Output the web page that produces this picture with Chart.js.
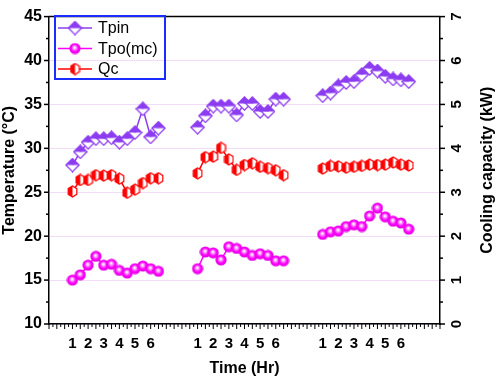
<!DOCTYPE html>
<html lang="en">
<head>
  <meta charset="UTF-8">
  <title>Temperature and cooling capacity</title>
  <script src="https://cdn.jsdelivr.net/npm/chart.js"></script>
  <style>
    body { margin: 0; padding: 0; background: #fff; }
    #wrap { width: 498px; height: 378px; }
  </style>
</head>
<body>
<div id="wrap"><canvas id="chart" width="498" height="378"></canvas></div>
<script>
  // three runs, each read every half hour from 1 to 6.5 Hr
  const hours = [1, 1.5, 2, 2.5, 3, 3.5, 4, 4.5, 5, 5.5, 6, 6.5];
  const groupStart = [3, 19, 35];   // where hour 1 of each run sits on the x scale
  const hourLabels = ['1', '2', '3', '4', '5', '6'];

  // Tpin (°C)
  const tpin1 = [28.1, 29.6, 30.7, 31.1, 31.1, 31.2, 30.7, 31.1, 31.8, 34.5, 31.3, 32.3];
  const tpin2 = [32.4, 33.7, 34.8, 34.8, 34.8, 33.8, 35.1, 35.1, 34.2, 34.2, 35.6, 35.6];
  const tpin3 = [36.0, 36.3, 37.1, 37.5, 37.6, 38.4, 39.1, 38.8, 38.2, 37.9, 37.8, 37.6];

  // Tpo(mc) (°C)
  const tpo1 = [15.0, 15.6, 16.7, 17.7, 16.7, 16.8, 16.1, 15.8, 16.3, 16.6, 16.3, 16.0];
  const tpo2 = [16.3, 18.2, 18.1, 17.3, 18.8, 18.6, 18.2, 17.8, 18.0, 17.8, 17.2, 17.2];
  const tpo3 = [20.2, 20.5, 20.6, 21.1, 21.3, 21.1, 22.3, 23.2, 22.2, 21.7, 21.5, 20.8];

  // Qc (kW)
  const qc1 = [3.02, 3.28, 3.28, 3.39, 3.38, 3.39, 3.31, 2.99, 3.06, 3.21, 3.32, 3.32];
  const qc2 = [3.43, 3.80, 3.81, 4.01, 3.75, 3.51, 3.62, 3.66, 3.58, 3.55, 3.50, 3.39];
  const qc3 = [3.54, 3.60, 3.59, 3.56, 3.58, 3.60, 3.63, 3.62, 3.63, 3.68, 3.63, 3.61];

  const violet = '#8c3cf0';
  const magenta = '#ff00ff';
  const red = '#ff0000';

  // join the three runs into one series, with a null between runs to break the line
  function toPoints(runs) {
    const pts = [];
    runs.forEach((run, g) => {
      run.forEach((v, i) => pts.push({ x: groupStart[g] + (hours[i] - 1) * 2, y: v }));
      pts.push({ x: groupStart[g] + 12, y: null });
    });
    return pts;
  }

  // marker images
  function halfDiamond(color) {
    const c = document.createElement('canvas');
    c.width = 15; c.height = 15;
    const g = c.getContext('2d');
    const m = 7.5, r = 6.6;
    g.beginPath(); g.moveTo(m - r, m); g.lineTo(m, m + r); g.lineTo(m + r, m); g.closePath();
    g.fillStyle = '#fff'; g.fill();
    g.beginPath(); g.moveTo(m - r, m); g.lineTo(m, m - r); g.lineTo(m + r, m); g.closePath();
    g.fillStyle = color; g.fill();
    g.beginPath(); g.moveTo(m - r, m); g.lineTo(m, m - r); g.lineTo(m + r, m); g.lineTo(m, m + r); g.closePath();
    g.strokeStyle = color; g.lineWidth = 1.3; g.stroke();
    return c;
  }

  function sphere(color) {
    const c = document.createElement('canvas');
    c.width = 12; c.height = 12;
    const g = c.getContext('2d');
    const grad = g.createRadialGradient(5.5, 5, 0.4, 6, 6, 5.6);
    grad.addColorStop(0, '#ffffff');
    grad.addColorStop(0.3, '#ff80ff');
    grad.addColorStop(0.6, color);
    grad.addColorStop(1, '#e000e0');
    g.beginPath(); g.arc(6, 6, 5.6, 0, Math.PI * 2);
    g.fillStyle = grad; g.fill();
    return c;
  }

  function halfHex(color) {
    const c = document.createElement('canvas');
    c.width = 11; c.height = 13;
    const g = c.getContext('2d');
    const cx = 5.5, cy = 6.5, w = 4.3, h = 5.6;
    const path = () => {
      g.beginPath();
      g.moveTo(cx, cy - h); g.lineTo(cx + w, cy - h / 2); g.lineTo(cx + w, cy + h / 2);
      g.lineTo(cx, cy + h); g.lineTo(cx - w, cy + h / 2); g.lineTo(cx - w, cy - h / 2); g.closePath();
    };
    path(); g.fillStyle = '#fff'; g.fill();
    g.beginPath();
    g.moveTo(cx, cy - h); g.lineTo(cx - w, cy - h / 2); g.lineTo(cx - w, cy + h / 2); g.lineTo(cx, cy + h); g.closePath();
    g.fillStyle = color; g.fill();
    path(); g.strokeStyle = color; g.lineWidth = 1.2; g.stroke();
    return c;
  }

  const markTpin = halfDiamond(violet);
  const markTpo = sphere(magenta);
  const markQc = halfHex(red);

  // tick marks, top border, right axis labels and the boxed legend
  const frame = {
    id: 'frame',
    afterDraw(chart) {
      const { ctx, chartArea: a, scales } = chart;
      ctx.save();
      ctx.strokeStyle = '#000';
      ctx.lineWidth = 1.5;
      const seg = (x1, y1, x2, y2) => { ctx.beginPath(); ctx.moveTo(x1, y1); ctx.lineTo(x2, y2); ctx.stroke(); };

      seg(a.left, a.top, a.right, a.top);

      for (let v = 10; v <= 45; v += 2.5) {
        const y = scales.y.getPixelForValue(v);
        seg(a.left - (v % 5 === 0 ? 5 : 3), y, a.left, y);
      }
      for (let v = 0; v <= 7; v += 0.5) {
        const y = scales.y1.getPixelForValue(v);
        seg(a.right, y, a.right + (v % 1 === 0 ? 5 : 3), y);
      }
      ctx.lineWidth = 1;
      for (let v = 0; v <= 50; v += 0.5) {
        const x = scales.x.getPixelForValue(v);
        seg(x, a.bottom, x, a.bottom + (v % 1 === 0 ? 5 : 3));
      }

      // right axis labels and title, rotated like the original
      ctx.fillStyle = '#000';
      ctx.textAlign = 'center';
      ctx.textBaseline = 'middle';
      ctx.font = 'bold 15px Arial';
      for (let v = 0; v <= 7; v++) {
        ctx.save();
        ctx.translate(457, scales.y1.getPixelForValue(v));
        ctx.rotate(-Math.PI / 2);
        ctx.fillText(String(v), 0, 0);
        ctx.restore();
      }
      ctx.font = 'bold 16px Arial';
      ctx.save();
      ctx.translate(488, (a.top + a.bottom) / 2);
      ctx.rotate(-Math.PI / 2);
      ctx.fillText('Cooling capacity (kW)', 0, 0);
      ctx.restore();

      // legend
      ctx.strokeStyle = '#1a2cff';
      ctx.lineWidth = 2;
      ctx.strokeRect(55, 16, 110, 63);
      ctx.textAlign = 'left';
      ctx.font = '16px Arial';
      const items = [[markTpin, violet], [markTpo, magenta], [markQc, red]];
      items.forEach(([img, col], i) => {
        const y = 28 + i * 20.5;
        ctx.strokeStyle = col;
        ctx.lineWidth = 1.5;
        seg(58, y, 92, y);
        ctx.drawImage(img, 75 - img.width / 2, y - img.height / 2);
        ctx.fillStyle = '#000';
        ctx.fillText(chart.data.datasets[i].label, 98, y + 1);
      });
      ctx.restore();
    }
  };

  const ctx = document.getElementById('chart').getContext('2d');
  new Chart(ctx, {
    type: 'line',
    data: {
      datasets: [
        { label: 'Tpin', data: toPoints([tpin1, tpin2, tpin3]), yAxisID: 'y',
          borderColor: violet, borderWidth: 1.5, pointStyle: markTpin },
        { label: 'Tpo(mc)', data: toPoints([tpo1, tpo2, tpo3]), yAxisID: 'y',
          borderColor: magenta, borderWidth: 1.5, pointStyle: markTpo },
        { label: 'Qc', data: toPoints([qc1, qc2, qc3]), yAxisID: 'y1',
          borderColor: red, borderWidth: 1.5, pointStyle: markQc }
      ]
    },
    options: {
      responsive: false,
      animation: false,
      spanGaps: false,
      layout: { padding: { left: 0, right: 0, top: 13, bottom: 0 } },
      plugins: { legend: { display: false }, tooltip: { enabled: false } },
      scales: {
        x: {
          type: 'linear', min: 0, max: 50,
          afterFit: s => { s.height = 54; },
          grid: { display: false, drawTicks: false },
          border: { color: '#000', width: 1.5 },
          ticks: {
            stepSize: 1, autoSkip: false, maxRotation: 0, padding: 11,
            color: '#000', font: { family: 'Arial', size: 15, weight: 'bold' },
            callback: v => {
              for (const s of groupStart) {
                const k = (v - s) / 2;
                if (Number.isInteger(k) && k >= 0 && k < hourLabels.length) return hourLabels[k];
              }
              return '';
            }
          },
          title: { display: true, text: 'Time (Hr)', color: '#000', padding: 0,
                   font: { family: 'Arial', size: 16, weight: 'bold' } }
        },
        y: {
          position: 'left', min: 10, max: 45,
          afterFit: s => { s.width = 49; },
          grid: { color: '#f0dcf6', lineWidth: 1, drawTicks: false },
          border: { color: '#000', width: 1.5 },
          ticks: {
            stepSize: 2.5, padding: 7, color: '#000',
            font: { family: 'Arial', size: 16, weight: 'bold' },
            callback: v => (v % 5 === 0 ? String(v) : '')
          },
          title: { display: true, text: 'Temperature (°C)', color: '#000', padding: 0,
                   font: { family: 'Arial', size: 16, weight: 'bold' } }
        },
        y1: {
          position: 'right', min: 0, max: 7,
          afterFit: s => { s.width = 58; },
          grid: { drawOnChartArea: false, drawTicks: false },
          border: { color: '#000', width: 1.5 },
          ticks: { display: false, stepSize: 1 }
        }
      }
    },
    plugins: [frame]
  });
</script>
</body>
</html>
